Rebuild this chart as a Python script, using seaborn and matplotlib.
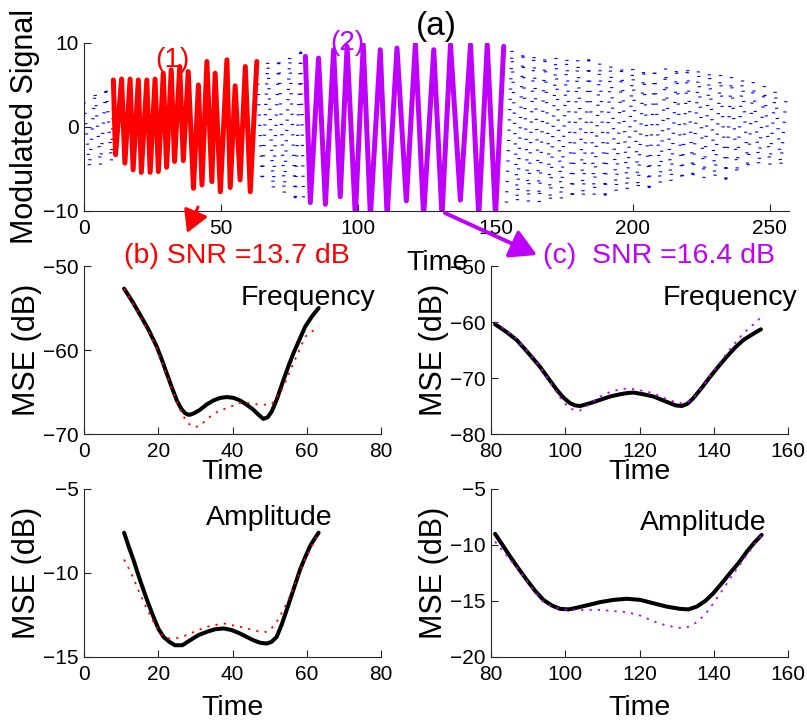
import matplotlib; matplotlib.use("Agg")
import matplotlib.pyplot as plt
import seaborn as sns

# ── values ───────────────────────────────────────────────────────────────
# (a) modulated signal: noisy blue background, red piece (1), magenta piece (2)
blue_t1 = [0, 2, 4, 6, 8, 10, 11]
blue_v1 = [2.9, -4.8, 4.2, -4.6, 4.8, -4.1, 5.0]
blue_t2 = [63, 65, 67, 69, 71, 73, 75, 77, 79, 80]
blue_v2 = [7.6, -6.5, 7.9, -7.4, 8.2, -8.0, 8.5, -8.3, 8.8, -8.6]
blue_t3 = list(range(154, 257, 2))
blue_v3 = [-9.0, 9.2, -9.0, 9.0, -9.0, 8.7, -9.0, 8.5, -8.9, 8.4,
           -8.7, 8.3, -8.6, 8.1, -8.4, 7.9, -8.2, 7.7, -8.0, 7.5,
           -7.8, 7.3, -7.6, 7.1, -7.4, 7.0, -7.1, 7.0, -6.8, 7.0,
           -6.6, 7.1, -6.4, 7.2, -6.2, 6.9, -6.1, 6.6, -6.1, 6.3,
           -6.1, 6.0, -5.6, 5.8, -5.0, 5.4, -4.6, 4.9, -4.6, 4.4,
           -4.7, 3.7]

seg1_t = [10.7, 11.5, 13.7, 14.9, 16.8, 17.9, 19.8, 20.9, 22.9, 24.1, 25.9,
          27.1, 28.9, 30.1, 31.8, 33.0, 34.9, 36.2, 38.0, 39.9, 41.7, 43.0,
          44.8, 46.6, 47.8, 49.7, 52.1, 53.3, 55.1, 56.9, 58.8, 60.6, 63.0]
seg1_v = [5.6, -3.3, 5.7, -4.3, 5.7, -5.1, 5.6, -5.4, 5.6, -5.4, 5.7,
          -5.3, 6.4, -4.8, 6.8, -4.1, 7.2, -4.0, 6.6, -7.3, 5.0, -6.9,
          7.8, -6.5, 6.4, -7.7, 8.0, -7.2, 4.9, -6.3, 7.2, -7.7, 7.8]

seg2_t = [80.7, 82.5, 85.5, 88.0, 91.0, 93.4, 95.9, 98.9, 101.8, 104.4, 108.0,
          110.5, 114.1, 117.5, 120.8, 123.8, 127.5, 130.5, 133.6, 137.2, 140.9,
          143.9, 147.0, 150.0, 153.0]
seg2_v = [8.4, -9.0, 8.2, -9.2, 9.2, -8.3, 9.6, -10.6, 9.8, -10.6, 9.2,
          -10.6, 9.4, -8.8, 9.9, -10.6, 9.2, -10.6, 9.8, -8.7, 9.8,
          -10.6, 9.8, -10.6, 9.6]

# (b) segment (1), SNR 13.7 dB  -- true (black) vs estimated (red dotted)
b_freq_t = [10.8, 13.0, 15.1, 17.4, 19.6, 21.0, 22.3, 23.7, 25.0, 26.2,
            27.2, 28.0, 28.6, 29.8, 31.3, 33.0, 34.9, 36.7, 38.5, 40.3,
            42.0, 43.8, 45.6, 47.0, 48.3, 49.5, 50.6, 52.0, 53.7, 55.0,
            56.4, 58.0, 59.6, 61.4, 63.2]
b_freq_true = [-52.7, -54.2, -55.8, -57.6, -59.6, -61.2, -62.8, -64.5, -66.0, -67.0,
               -67.5, -67.7, -67.7, -67.5, -67.1, -66.5, -66.0, -65.7, -65.6, -65.7,
               -66.0, -66.5, -67.1, -67.7, -68.2, -68.0, -67.3, -65.8, -63.6, -62.0,
               -60.4, -58.8, -57.2, -56.0, -55.0]
b_freq_est = [-52.7, -54.3, -55.9, -57.8, -59.8, -61.4, -63.0, -64.7, -66.2, -67.4,
              -68.2, -68.7, -68.9, -69.2, -69.0, -68.3, -67.6, -67.2, -66.9, -66.6,
              -66.3, -66.3, -66.4, -66.5, -66.5, -66.5, -66.4, -65.6, -64.4, -63.0,
              -61.6, -60.0, -58.4, -57.8, -57.2]

b_amp_t = [10.8, 12.0, 13.3, 14.6, 16.0, 17.3, 18.7, 20.0, 21.4, 23.0, 24.5,
           26.5, 28.6, 30.8, 33.1, 35.3, 37.6, 39.8, 42.0, 43.8, 45.6, 47.4,
           49.2, 50.5, 51.9, 53.2, 54.6, 56.4, 58.2, 59.5, 60.9, 62.0, 63.2]
b_amp_true = [-7.6, -8.4, -9.2, -10.1, -11.0, -11.8, -12.6, -13.3, -13.8, -14.1, -14.3,
              -14.3, -14.0, -13.7, -13.5, -13.35, -13.3, -13.4, -13.6, -13.8, -14.0, -14.15,
              -14.2, -14.1, -13.8, -13.1, -12.2, -11.0, -9.8, -9.1, -8.4, -8.0, -7.6]
b_amp_est = [-9.2, -9.7, -10.3, -11.0, -11.7, -12.3, -12.9, -13.4, -13.8, -13.9, -13.9,
             -13.8, -13.6, -13.4, -13.2, -13.1, -13.0, -13.1, -13.2, -13.3, -13.4, -13.5,
             -13.5, -13.3, -12.9, -12.4, -11.8, -10.9, -9.9, -9.2, -8.6, -8.1, -7.7]

# (c) segment (2), SNR 16.4 dB  -- true (black) vs estimated (magenta dotted)
c_freq_t = [81.1, 84.0, 86.9, 90.0, 93.2, 95.5, 97.7, 99.5, 101.3, 102.7, 104.0,
            106.7, 109.4, 112.1, 114.8, 116.6, 118.4, 121.0, 123.7, 126.0, 128.2,
            129.8, 131.4, 132.9, 134.5, 136.7, 139.0, 141.2, 143.5, 145.7, 148.0,
            150.4, 152.7]
c_freq_true = [-60.4, -61.7, -63.2, -65.5, -68.0, -70.1, -72.1, -73.5, -74.5, -74.9, -75.0,
               -74.5, -73.9, -73.3, -72.9, -72.7, -72.6, -72.9, -73.3, -73.9, -74.5,
               -74.9, -75.0, -74.6, -73.6, -71.8, -69.8, -68.0, -66.2, -64.6, -63.2,
               -62.2, -61.3]
c_freq_est = [-60.0, -61.5, -63.0, -65.4, -68.0, -70.3, -72.6, -74.3, -75.4, -75.8, -75.8,
              -74.6, -73.3, -72.5, -72.0, -71.9, -72.0, -72.3, -72.7, -73.4, -74.0,
              -74.3, -74.5, -74.3, -73.6, -71.8, -69.6, -67.6, -65.6, -63.8, -62.0,
              -60.6, -59.2]

c_amp_t = [81.1, 83.1, 85.1, 87.4, 89.6, 91.9, 94.1, 96.4, 98.6, 100.9, 103.1,
           106.3, 109.4, 113.0, 116.6, 120.2, 123.7, 127.3, 130.9, 133.2, 135.4,
           137.7, 139.9, 142.2, 144.4, 146.7, 148.9, 150.9, 152.9]
c_amp_true = [-9.0, -10.0, -11.0, -12.1, -13.1, -14.1, -14.9, -15.4, -15.7, -15.75, -15.6,
              -15.35, -15.1, -14.9, -14.8, -14.9, -15.2, -15.5, -15.7, -15.75, -15.5,
              -15.0, -14.3, -13.4, -12.5, -11.6, -10.6, -9.8, -9.1]
c_amp_est = [-9.7, -10.5, -11.3, -12.2, -13.2, -14.2, -15.1, -15.5, -15.7, -15.8, -15.8,
             -15.8, -15.8, -15.9, -16.0, -16.3, -16.8, -17.2, -17.4, -17.3, -16.9,
             -16.2, -15.2, -14.1, -13.0, -11.9, -10.9, -10.0, -9.1]

RED, MAG, BLUE = "#ff0000", "#bf00ff", "#0000ff"

# ── style ────────────────────────────────────────────────────────────────
sns.set_style("ticks")
plt.rcParams["font.family"] = ["Liberation Sans", "DejaVu Sans"]
plt.rcParams["lines.scale_dashes"] = False
plt.rcParams["axes.edgecolor"] = "#262626"
for k in ["text.color", "axes.labelcolor", "xtick.color", "ytick.color"]:
    plt.rcParams[k] = "black"

W, H = 807, 724
fig = plt.figure(figsize=(W / 100, H / 100), dpi=100)


def px_axes(l, t, r, b):
    return fig.add_axes([l / W, 1 - b / H, (r - l) / W, (b - t) / H])


def style(ax, xlim, xticks, ylim, yticks):
    ax.set_xlim(*xlim); ax.set_ylim(*ylim)
    ax.set_xticks(xticks); ax.set_yticks(yticks)
    sns.despine(ax=ax)
    for s in ax.spines.values():
        s.set_linewidth(0.8)
    ax.tick_params(direction="in", length=5, width=0.8, labelsize=15,
                   color="#262626", labelcolor="black")
    ax.tick_params(axis="x", pad=6)
    ax.tick_params(axis="y", pad=4)


def line(ax, t, v, **kw):
    sns.lineplot(x=t, y=v, ax=ax, estimator=None, sort=False, **kw)


# ── (a) modulated signal ─────────────────────────────────────────────────
ax_a = px_axes(84, 43, 789, 211)
blue_kw = dict(color=BLUE, linewidth=2.4, linestyle=(0, (0.8, 6.6)),
               dash_capstyle="butt")
for t, v in [(blue_t1, blue_v1), (blue_t2, blue_v2), (blue_t3, blue_v3)]:
    line(ax_a, t, v, **blue_kw)
line(ax_a, seg1_t, seg1_v, color=RED, linewidth=3.6)
line(ax_a, seg2_t, seg2_v, color=MAG, linewidth=3.6)
style(ax_a, (0, 257), [0, 50, 100, 150, 200, 250], (-10, 10), [-10, 0, 10])
ax_a.set_xlabel("Time", fontsize=20.5, va="baseline")
ax_a.xaxis.set_label_coords(437 / W, 1 - 270 / H, transform=fig.transFigure)
ax_a.set_ylabel("Modulated Signal", fontsize=22, va="baseline")
ax_a.yaxis.set_label_coords(33 / W, 1 - 127 / H, transform=fig.transFigure)
ax_a.text(32.1, 10 - (67 - 43) * 20 / 168, "(1)", color=RED, fontsize=20,
          ha="center", va="baseline", clip_on=False)
ax_a.text(96.0, 10 - (50 - 43) * 20 / 168, "(2)", color=MAG, fontsize=20,
          ha="center", va="baseline", clip_on=False)
fig.text(436 / W, 1 - 35 / H, "(a)", fontsize=24, ha="center", va="baseline")

ax_a.annotate("", xy=(187, H - 233), xytext=(198, H - 207),
              xycoords="figure pixels", textcoords="figure pixels",
              arrowprops=dict(arrowstyle="-|>,head_length=0.8,head_width=0.45",
                              lw=2.2, color=RED, mutation_scale=17,
                              shrinkA=0, shrinkB=0))
ax_a.annotate("", xy=(537, H - 255), xytext=(445, H - 213),
              xycoords="figure pixels", textcoords="figure pixels",
              arrowprops=dict(arrowstyle="-|>,head_length=0.8,head_width=0.45",
                              lw=2.8, color=MAG, mutation_scale=20,
                              shrinkA=0, shrinkB=0))

fig.text(237 / W, 1 - 263 / H, "(b) SNR =13.7 dB", color=RED, fontsize=20.5,
         ha="center", va="baseline")
fig.text(659 / W, 1 - 263 / H, "(c)  SNR =16.4 dB", color=MAG, fontsize=20.5,
         ha="center", va="baseline")

# ── MSE panels ───────────────────────────────────────────────────────────
dot_kw = dict(linewidth=1.3, linestyle=(0, (1.6, 4.4)))
panels = [
    ((84, 266, 381, 434), b_freq_t, b_freq_true, b_freq_est, RED,
     (0, 80), [0, 20, 40, 60, 80], (-70, -50), [-70, -60, -50],
     "Frequency", 479),
    ((491, 266, 788, 434), c_freq_t, c_freq_true, c_freq_est, MAG,
     (80, 160), [80, 100, 120, 140, 160], (-80, -50), [-80, -70, -60, -50],
     "Frequency", 479),
    ((84, 489, 381, 657), b_amp_t, b_amp_true, b_amp_est, RED,
     (0, 80), [0, 20, 40, 60, 80], (-15, -5), [-15, -10, -5],
     "Amplitude", 715),
    ((491, 489, 788, 657), c_amp_t, c_amp_true, c_amp_est, MAG,
     (80, 160), [80, 100, 120, 140, 160], (-20, -5), [-20, -15, -10, -5],
     "Amplitude", 715),
]
name_pos = {(84, 266): (375, 305), (491, 266): (797, 305),
            (84, 489): (333, 525), (491, 489): (767, 530)}

for box, t, true, est, col, xlim, xt, ylim, yt, name, time_base in panels:
    l, tp, r, b = box
    ax = px_axes(*box)
    line(ax, t, true, color="black", linewidth=2.9, solid_joinstyle="round")
    line(ax, t, est, color=col, **dot_kw)
    style(ax, xlim, xt, ylim, yt)
    ax.set_xlabel("Time", fontsize=20.5, va="baseline")
    ax.xaxis.set_label_coords((l + r) / 2 / W, 1 - time_base / H,
                              transform=fig.transFigure)
    ax.set_ylabel("MSE (dB)", fontsize=22, va="baseline")
    ax.yaxis.set_label_coords((l - 49) / W, 1 - (tp + b) / 2 / H,
                              transform=fig.transFigure)
    nx, ny = name_pos[(l, tp)]
    fig.text(nx / W, 1 - ny / H, name, fontsize=20.5, ha="right", va="baseline")

fig.savefig("out.png", dpi=100)
